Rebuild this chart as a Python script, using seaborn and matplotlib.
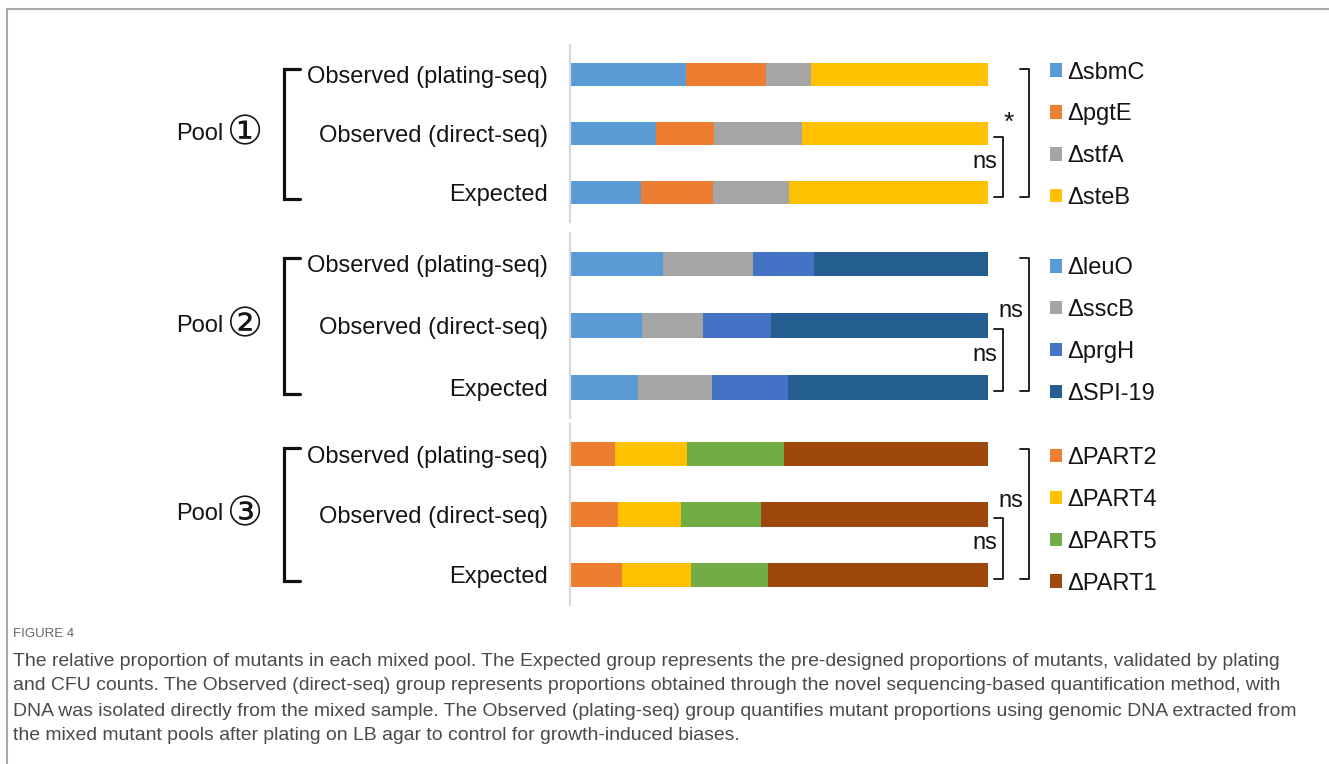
import matplotlib
matplotlib.use("Agg")
import matplotlib.pyplot as plt
import seaborn as sns
import pandas as pd
from matplotlib.patches import Patch
from matplotlib.lines import Line2D

sns.set_theme(style="white")
plt.rcParams["font.family"] = ["Liberation Sans", "DejaVu Sans", "Noto Sans CJK SC"]

# ---- data -------------------------------------------------------------
groups = ["Observed (plating-seq)", "Observed (direct-seq)", "Expected"]

pool1_name, pool1_num = "Pool", "\u2460"
pool1_mutants = ["\u0394sbmC", "\u0394pgtE", "\u0394stfA", "\u0394steB"]
pool1_colors = ["#5B9BD5", "#ED7D31", "#A5A5A5", "#FFC000"]
pool1_plating = [27.8, 19.0, 10.8, 42.4]
pool1_direct = [20.6, 13.9, 21.0, 44.5]
pool1_expected = [17.0, 17.2, 18.1, 47.7]
pool1_sig = ["*", "ns"]  # plating vs expected, direct vs expected

pool2_name, pool2_num = "Pool", "\u2461"
pool2_mutants = ["\u0394leuO", "\u0394sscB", "\u0394prgH", "\u0394SPI-19"]
pool2_colors = ["#5B9BD5", "#A5A5A5", "#4472C4", "#255E91"]
pool2_plating = [22.2, 21.6, 14.6, 41.6]
pool2_direct = [17.1, 14.6, 16.4, 51.9]
pool2_expected = [16.2, 17.8, 18.0, 48.0]
pool2_sig = ["ns", "ns"]

pool3_name, pool3_num = "Pool", "\u2462"
pool3_mutants = ["\u0394PART2", "\u0394PART4", "\u0394PART5", "\u0394PART1"]
pool3_colors = ["#ED7D31", "#FFC000", "#70AD47", "#9E480E"]
pool3_plating = [10.8, 17.2, 23.2, 48.8]
pool3_direct = [11.5, 15.1, 19.1, 54.3]
pool3_expected = [12.4, 16.6, 18.2, 52.8]
pool3_sig = ["ns", "ns"]

caption_title = "FIGURE 4"
caption_lines = [
    "The relative proportion of mutants in each mixed pool. The Expected group represents the pre-designed proportions of mutants, validated by plating",
    "and CFU counts. The Observed (direct-seq) group represents proportions obtained through the novel sequencing-based quantification method, with",
    "DNA was isolated directly from the mixed sample. The Observed (plating-seq) group quantifies mutant proportions using genomic DNA extracted from",
    "the mixed mutant pools after plating on LB agar to control for growth-induced biases.",
]

# ---- figure -----------------------------------------------------------
W, H = 1329, 764
fig = plt.figure(figsize=(W / 100, H / 100), dpi=100)
fig.patch.set_facecolor("white")

X0, X1 = 570, 988.5  # pixel span of the 0-100 % scale
TXT = "#141414"


def add_axes_px(top, bottom):
    return fig.add_axes([X0 / W, 1 - bottom / H, (X1 - X0) / W, (bottom - top) / H])


def xd(px):
    """Horizontal pixel position -> percentage units of the bar scale."""
    return (px - X0) / (X1 - X0) * 100


def draw_pool(ax, name, num, mutants, colors, rows, sig, legend_y):
    df = pd.DataFrame(rows, columns=mutants)
    cum = df.cumsum(axis=1)
    cum["group"] = groups
    # stacked bars: draw cumulative totals from the longest down
    for m, c in reversed(list(zip(mutants, colors))):
        sns.barplot(data=cum, x=m, y="group", color=c, saturation=1,
                    width=0.4, errorbar=None, orient="h", linewidth=0, ax=ax)
    ax.set_xlim(0, 100)
    ax.set_ylim(2.5, -0.5)
    ax.set_xlabel("")
    ax.set_ylabel("")
    ax.xaxis.set_visible(False)
    for s in ["top", "right", "bottom"]:
        ax.spines[s].set_visible(False)
    ax.spines["left"].set_color("#d9d9d9")
    ax.spines["left"].set_linewidth(1.6)
    ax.tick_params(axis="y", length=0, pad=16, labelsize=17, labelcolor=TXT)
    ax.set_facecolor("none")

    # left group bracket and pool name
    ax.plot([xd(300), xd(284), xd(284), xd(300)], [-0.1, -0.1, 2.11, 2.11],
            color="#111111", lw=2.3, clip_on=False, solid_joinstyle="miter")
    ax.text(xd(245.5), 1.0, num, ha="center", va="center", fontsize=29, color=TXT)
    ax.text(xd(223), 1.0, name, ha="right", va="center", fontsize=17, color=TXT)

    # significance brackets
    ax.plot([xd(994), xd(1003), xd(1003), xd(994)], [1.06, 1.06, 2.07, 2.07],
            color="#111111", lw=1.3, clip_on=False)
    ax.plot([xd(1020), xd(1029), xd(1029), xd(1020)], [-0.09, -0.09, 2.07, 2.07],
            color="#111111", lw=1.3, clip_on=False)
    ax.text(xd(997), 1.48, sig[1], ha="right", va="center", fontsize=17, color=TXT)
    if sig[0] == "*":
        ax.text(xd(1009), 0.82, sig[0], ha="center", va="center", fontsize=19, color=TXT)
    else:
        ax.text(xd(1023), 0.77, sig[0], ha="right", va="center", fontsize=17, color=TXT)

    handles = [Patch(facecolor=c, edgecolor="none", label=m) for m, c in zip(mutants, colors)]
    ax.legend(handles=handles, loc="center left", bbox_to_anchor=(xd(1050) / 100, legend_y),
              frameon=False, borderaxespad=0, borderpad=0, handlelength=0.5,
              handleheight=0.5, handletextpad=0.25, labelspacing=0.84, fontsize=17,
              labelcolor=TXT)


ax1 = add_axes_px(45, 222)
ax2 = add_axes_px(233, 418)
ax3 = add_axes_px(424, 605)

draw_pool(ax1, pool1_name, pool1_num, pool1_mutants, pool1_colors,
          [pool1_plating, pool1_direct, pool1_expected], pool1_sig, 0.49)
draw_pool(ax2, pool2_name, pool2_num, pool2_mutants, pool2_colors,
          [pool2_plating, pool2_direct, pool2_expected], pool2_sig, 0.47)
draw_pool(ax3, pool3_name, pool3_num, pool3_mutants, pool3_colors,
          [pool3_plating, pool3_direct, pool3_expected], pool3_sig, 0.465)

# page frame and caption
fig.add_artist(Line2D([7 / W, 7 / W], [0, 1 - 9 / H], transform=fig.transFigure,
                      color="#a8a8a8", lw=1.5))
fig.add_artist(Line2D([7 / W, 1], [1 - 9 / H, 1 - 9 / H], transform=fig.transFigure,
                      color="#a8a8a8", lw=1.5))

fig.text(13 / W, 1 - 634 / H, caption_title, fontsize=9.5, color="#666666",
         va="center", ha="left")
for i, line in enumerate(caption_lines):
    fig.text(13 / W, 1 - (661 + 25 * i) / H, line, fontsize=13.95, color="#4a4a4a",
             va="center", ha="left")

fig.savefig("out.png", dpi=100, facecolor="white")
